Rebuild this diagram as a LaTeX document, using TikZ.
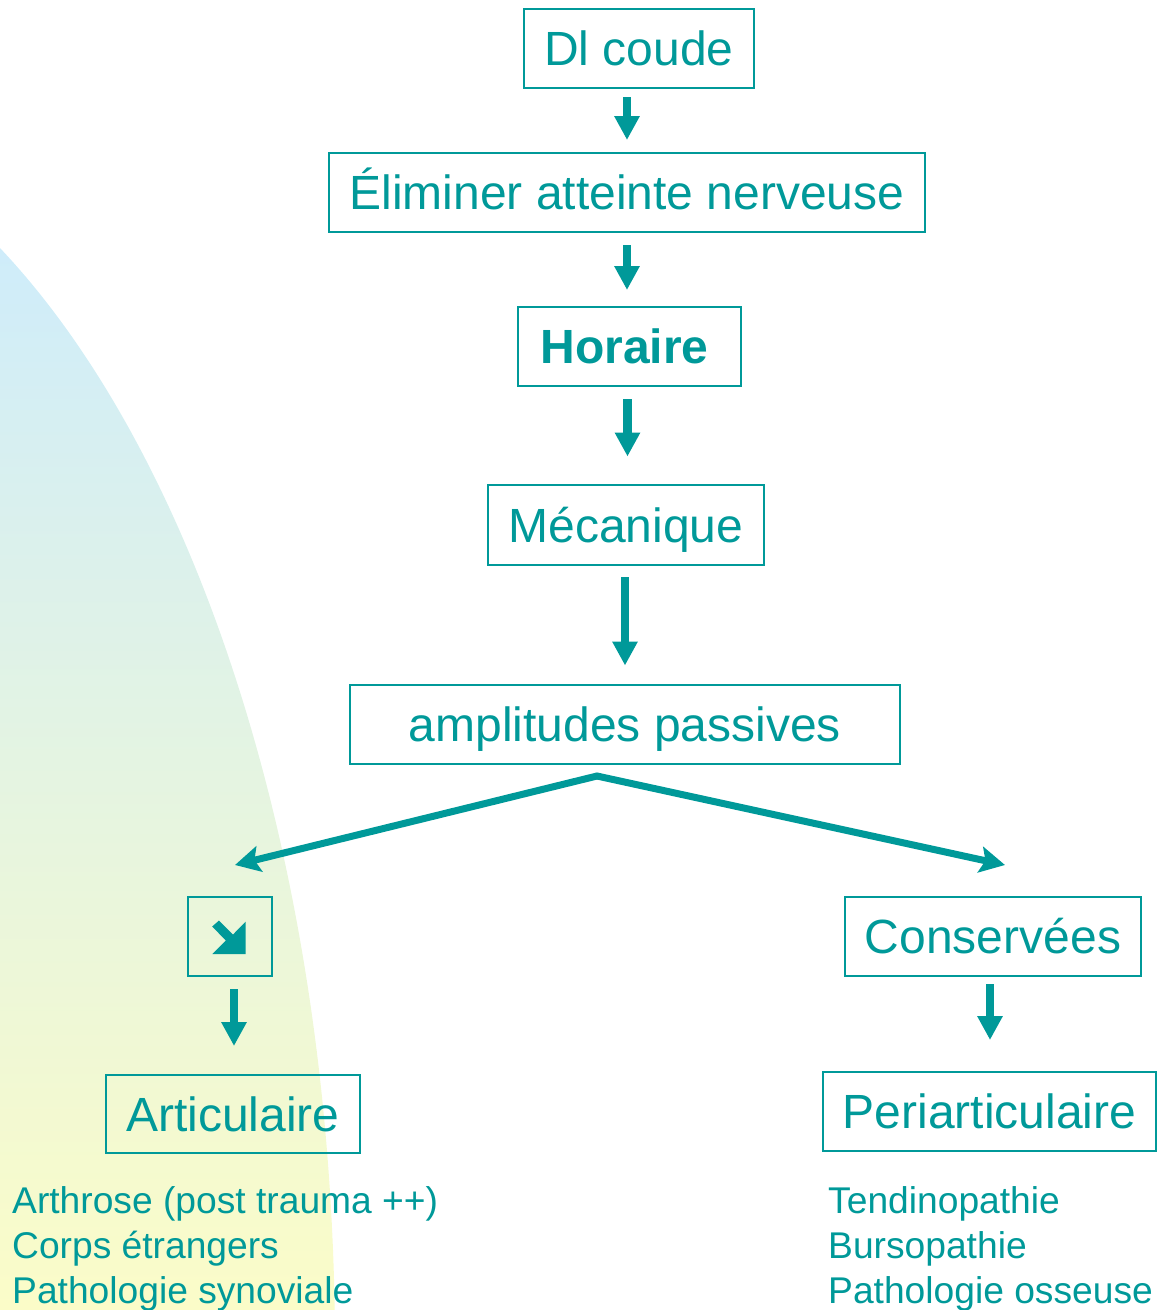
\documentclass[tikz,border=0pt]{standalone}
\usepackage{fontspec}
\setmainfont{Liberation Sans}
\usetikzlibrary{arrows.meta,calc}
\definecolor{teal1}{RGB}{0,153,153}
\definecolor{bgtop}{RGB}{206,236,251}
\definecolor{bgmid}{RGB}{228,244,233}
\definecolor{bgbot}{RGB}{251,252,200}
\tikzset{
  box/.style={draw=teal1, line width=2pt, text=teal1, inner sep=0pt,
    font=\fontsize{48}{56}\selectfont, text height=34pt, text depth=0pt, align=center},
  listtext/.style={text=teal1, inner sep=0pt, anchor=base west,
    font=\fontsize{37.2}{45}\selectfont},
  varrow/.style={draw=teal1, line width=8.5pt, -{Triangle[width=24pt,length=24pt]}},
  barrow/.style={draw=teal1, line width=7pt, line cap=round,
    -{Stealth[width=26pt,length=25pt,inset=5pt]}}
}
\begin{document}
\begin{tikzpicture}[x=1pt,y=-1pt]
\useasboundingbox (0,0) rectangle (1157,1310);
% background shaded quarter ellipse
\begin{scope}
  \clip (-300,1350) ellipse [x radius=635, y radius=1250];
  \shade[top color=bgtop, middle color=bgmid, bottom color=bgbot] (0,230) rectangle (360,1310);
\end{scope}

% boxes
\node[box, minimum width=230pt, minimum height=79pt] (dl)   at (639,48.5)  {Dl coude};
\node[box, minimum width=596pt, minimum height=79pt] (elim) at (627,192.5) {Éliminer atteinte nerveuse};
\node[box, minimum width=223pt, minimum height=79pt] (hor)  at (629.5,346.5) {\bfseries Horaire\hspace*{10pt}};
\node[box, minimum width=276pt, minimum height=80pt] (mec)  at (626,525)   {Mécanique};
\node[box, minimum width=550pt, minimum height=79pt] (amp)  at (625,724.5) {amplitudes passives};
\node[box, minimum width=84pt,  minimum height=79pt] (dec)  at (230,936.5) {};
\node[box, minimum width=296pt, minimum height=79pt] (cons) at (993,936.5) {Conservées};
\node[box, minimum width=254pt, minimum height=78pt] (art)  at (233,1114)  {Articulaire};
\node[box, minimum width=333pt, minimum height=79pt] (peri) at (989.5,1111.5) {Periarticulaire};

% decreasing arrow symbol inside small box
\fill[teal1] ($(dec.center)+(-17.8,-10.0)$) -- ($(dec.center)+(-11.0,-16.0)$)
  -- ($(dec.center)+(3.0,-2.0)$) -- ($(dec.center)+(15.7,-14.8)$)
  -- ($(dec.center)+(15.7,17.5)$) -- ($(dec.center)+(-17.7,17.5)$)
  -- ($(dec.center)+(-4.2,4.0)$) -- cycle;

% lists
\node[listtext] (l1) at (12,1213) {Arthrose (post trauma ++)};
\node[listtext] (l2) at (12,1258) {Corps étrangers};
\node[listtext] (l3) at (12,1303) {Pathologie synoviale};
\node[listtext] (r1) at (828,1213) {Tendinopathie};
\node[listtext] (r2) at (828,1258) {Bursopathie};
\node[listtext] (r3) at (828,1303) {Pathologie osseuse};

% vertical arrows
\draw[varrow] ($(dl.south)+(-12,8)$) -- ($(elim.north)+(0,-12)$);
\draw[varrow] ($(elim.south)+(0,12)$) -- ($(hor.north)+(-2.5,-16)$);
\draw[varrow] ($(hor.south)+(-2,12)$) -- ($(mec.north)+(1.5,-27.5)$);
\draw[varrow] ($(mec.south)+(-1,11)$) -- ($(amp.north)+(0,-18.5)$);
\draw[varrow] ($(dec.south)+(4,12)$) -- ($(art.north)+(1,-28)$);
\draw[varrow] ($(cons.south)+(-3,7)$) -- ($(peri.north)+(0.5,-31)$);

% branching arrows
\coordinate (split) at ($(amp.south)+(-28,11)$);
\coordinate (lt) at ($(dec.north)+(5,-31)$);
\coordinate (rt) at ($(cons.north)+(12,-31)$);
\draw[barrow] (split) -- (lt);
\draw[barrow] (split) -- (rt);
\end{tikzpicture}
\end{document}
